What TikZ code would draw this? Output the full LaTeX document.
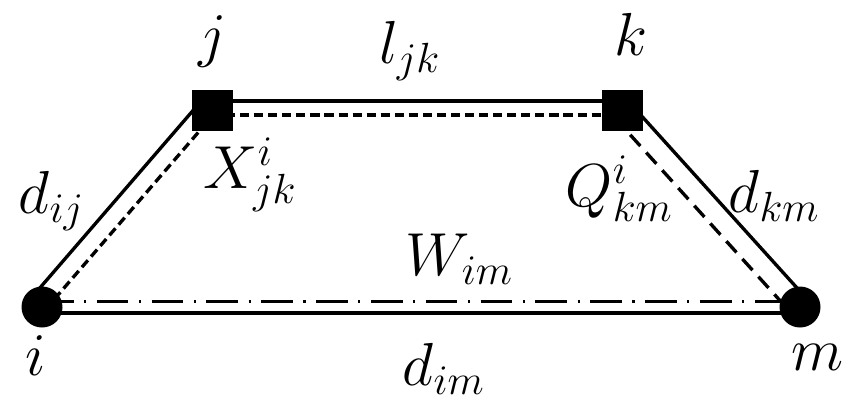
\documentclass[tikz,border=0pt]{standalone}
\usetikzlibrary{calc,backgrounds}

\begin{document}
\begin{tikzpicture}[
  font=\fontsize{17.28}{20}\selectfont,
  hub/.style={circle,fill=black,minimum size=.41cm,inner sep=0pt},
  stopbox/.style={rectangle,fill=black,minimum size=.41cm,inner sep=0pt},
  lbl/.style={anchor=base west,inner sep=0pt},
  tag/.style={anchor=base,inner sep=0pt},
  rail/.style={line width=.95pt},
  fine/.style={rail,dash pattern=on 2.6pt off 1.4pt},
  coarse/.style={rail,dash pattern=on 4.3pt off 2.5pt},
  chain/.style={rail,dash pattern=on 9pt off 3pt on .6pt off 3pt}
]
  \useasboundingbox (0,0) rectangle (8.52,4.09);

  \node[hub] (i) at (.42,1.02) {};
  \node[hub] (m) at (8.00,1.02) {};
  \node[stopbox] (j) at (2.12,2.99) {};
  \node[stopbox] (k) at (6.22,2.99) {};

  \begin{scope}[on background layer]
    % i -- j
    \draw[rail] ($(i.center)!4pt!90:(j.center)$) -- ($(j.center)!4pt!-90:(i.center)$);
    \draw[fine] ($(i.center)!1.2pt!-90:(j.center)$) -- ($(j.center)!1.2pt!90:(i.center)$);
    % j -- k
    \draw[rail] ([yshift=2.6pt]j.center) -- ([yshift=2.6pt]k.center);
    \draw[fine] ([yshift=-1.4pt]j.center) -- ([yshift=-1.4pt]k.center);
    % k -- m
    \draw[rail] ($(k.center)!3pt!90:(m.center)$) -- ($(m.center)!3pt!-90:(k.center)$);
    \draw[coarse] ($(k.center)!3pt!-90:(m.center)$) -- ($(m.center)!3pt!90:(k.center)$);
    % i -- m
    \draw[chain] ([yshift=1.5pt]i.center) -- ([yshift=1.5pt]m.center);
    \draw[rail] ([yshift=-1.7pt]i.center) -- ([yshift=-1.7pt]m.center);
  \end{scope}

  \node[tag] (jname) at (2.13,3.54) {$j$};
  \node[tag] (kname) at (6.31,3.54) {$k$};
  \node[tag] (ljk) at (4.10,3.46) {$l_{jk}$};
  \node[lbl] (xjk) at (2.03,2.21) {$X^i_{jk}$};
  \node[lbl] (qkm) at (5.65,2.03) {$Q^i_{km}$};
  \node[lbl] (dij) at (.18,1.96) {$d_{ij}$};
  \node[lbl] (dkm) at (7.28,1.97) {$d_{km}$};
  \node[lbl] (wim) at (4.05,1.34) {$W_{im}$};
  \node[tag] (iname) at (.36,.34) {$i$};
  \node[lbl] (dim) at (4.02,.24) {$d_{im}$};
  \node[tag] (mname) at (8.17,.39) {$m$};
\end{tikzpicture}
\end{document}
